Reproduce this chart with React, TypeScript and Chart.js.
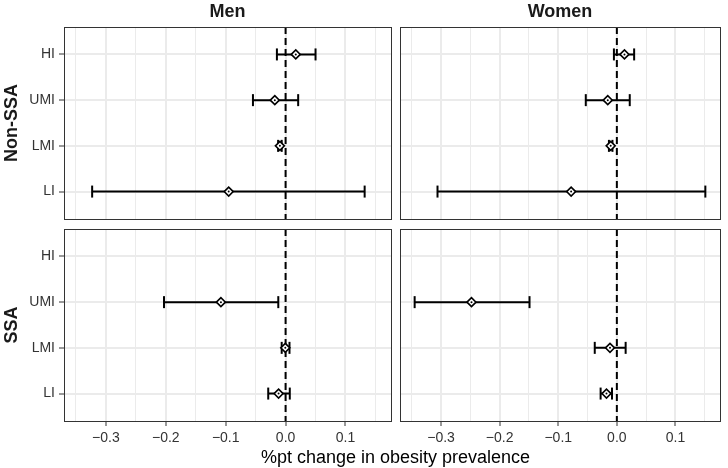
import React, { useEffect, useRef } from 'react';
import { Chart, registerables } from 'chart.js';

Chart.register(...registerables);

// ---------- data ----------
const categories = ['HI', 'UMI', 'LMI', 'LI'];
const columnLabels = ['Men', 'Women'];
const rowLabels = ['Non-SSA', 'SSA'];
const majorTicks = [-0.3, -0.2, -0.1, 0.0, 0.1];
const majorTickLabels = ['\u22120.3', '\u22120.2', '\u22120.1', '0.0', '0.1'];
const minorTicks = [-0.35, -0.25, -0.15, -0.05, 0.05, 0.15];
const xTitle = '%pt change in obesity prevalence';
const referenceValue = 0;

// Men, Non-SSA
const menNonSsaEst = [0.017, -0.018, -0.0095, -0.095];
const menNonSsaLo = [-0.0145, -0.0545, -0.0125, -0.323];
const menNonSsaHi = [0.05, 0.021, -0.0065, 0.132];
// Women, Non-SSA
const womenNonSsaEst = [0.013, -0.0155, -0.0105, -0.078];
const womenNonSsaLo = [-0.005, -0.053, -0.0135, -0.306];
const womenNonSsaHi = [0.0295, 0.022, -0.0075, 0.151];
// Men, SSA
const menSsaEst = [null, -0.108, -0.0005, -0.0117];
const menSsaLo = [null, -0.203, -0.0065, -0.029];
const menSsaHi = [null, -0.0122, 0.0065, 0.007];
// Women, SSA
const womenSsaEst = [null, -0.248, -0.0117, -0.0177];
const womenSsaLo = [null, -0.345, -0.0377, -0.0277];
const womenSsaHi = [null, -0.149, 0.015, -0.0083];

const X_MIN = -0.37;
const X_MAX = 0.176;

// ---------- layout ----------
const W = 728;
const H = 468;
const PANEL_LEFT = [64, 400];
const PANEL_RIGHT = [391, 727];
const PANEL_TOP = [27, 229];
const PANEL_BOTTOM = [219, 421];
const Y_AXIS_W = 64;
const X_AXIS_H = 30;
const FAMILY = "'Liberation Sans', Arial, Helvetica, sans-serif";
const TICK_TEXT = '#333333';

type Panel = {
  row: number;
  col: number;
  est: (number | null)[];
  lo: (number | null)[];
  hi: (number | null)[];
};

const panels: Panel[] = [
  { row: 0, col: 0, est: menNonSsaEst, lo: menNonSsaLo, hi: menNonSsaHi },
  { row: 0, col: 1, est: womenNonSsaEst, lo: womenNonSsaLo, hi: womenNonSsaHi },
  { row: 1, col: 0, est: menSsaEst, lo: menSsaLo, hi: menSsaHi },
  { row: 1, col: 1, est: womenSsaEst, lo: womenSsaLo, hi: womenSsaHi },
];

const isMajor = (v: any) =>
  typeof v === 'number' && majorTicks.some((m) => Math.abs(m - v) < 1e-9);

const decorPlugin = {
  id: 'panelDecor',
  beforeDatasetsDraw(chart: any) {
    const { ctx, chartArea, scales } = chart;
    const x0 = scales.x.getPixelForValue(referenceValue);
    ctx.save();
    ctx.strokeStyle = '#000000';
    ctx.lineWidth = 2;
    ctx.setLineDash([7, 4]);
    ctx.beginPath();
    ctx.moveTo(x0, chartArea.top);
    ctx.lineTo(x0, chartArea.bottom);
    ctx.stroke();
    ctx.restore();
  },
  afterDraw(chart: any) {
    const { ctx, chartArea } = chart;
    ctx.save();
    ctx.strokeStyle = '#333333';
    ctx.lineWidth = 1;
    ctx.strokeRect(
      chartArea.left + 0.5,
      chartArea.top + 0.5,
      chartArea.right - chartArea.left,
      chartArea.bottom - chartArea.top
    );
    ctx.restore();
  },
};

function PanelChart({ row, col, est, lo, hi }: Panel) {
  const ref = useRef<HTMLCanvasElement | null>(null);

  useEffect(() => {
    if (!ref.current) return;
    const idx = categories.map((_, i) => i).filter((i) => est[i] != null);

    const lineData: any[] = [];
    const capData: any[] = [];
    idx.forEach((i) => {
      lineData.push({ x: lo[i], y: i + 1 }, { x: hi[i], y: i + 1 }, { x: null, y: null });
      capData.push({ x: lo[i], y: i + 1 }, { x: hi[i], y: i + 1 });
    });
    const estData = idx.map((i) => ({ x: est[i], y: i + 1 }));

    const chart = new Chart(ref.current, {
      type: 'scatter',
      data: {
        datasets: [
          {
            type: 'line',
            data: lineData,
            borderColor: '#000000',
            borderWidth: 2,
            pointRadius: 0,
            spanGaps: false,
            fill: false,
            tension: 0,
            order: 3,
          } as any,
          {
            data: capData,
            pointStyle: 'line',
            rotation: 90,
            radius: 6,
            borderColor: '#000000',
            borderWidth: 2,
            order: 2,
          } as any,
          {
            data: estData,
            pointStyle: 'rectRot',
            radius: 4.5,
            backgroundColor: '#ffffff',
            borderColor: '#000000',
            borderWidth: 1.6,
            order: 1,
          } as any,
          {
            data: estData,
            pointStyle: 'circle',
            radius: 1,
            backgroundColor: '#000000',
            borderWidth: 0,
            order: 0,
          } as any,
        ],
      },
      options: {
        animation: false,
        responsive: false,
        events: [],
        layout: {
          padding: {
            left: col === 0 ? 0 : PANEL_LEFT[1],
            right: W - PANEL_RIGHT[col],
            top: row === 0 ? 0 : PANEL_TOP[1],
            bottom: H - PANEL_BOTTOM[row] - (row === 1 ? X_AXIS_H : 0),
          },
        },
        plugins: {
          legend: { display: false },
          tooltip: { enabled: false },
          title: {
            display: row === 0,
            text: columnLabels[col],
            fullSize: false,
            color: '#1A1A1A',
            font: { family: FAMILY, size: 18, weight: 'bold' },
            padding: { top: 1.2, bottom: 4.2 },
          },
        },
        scales: {
          x: {
            type: 'linear',
            position: 'bottom',
            min: X_MIN,
            max: X_MAX,
            afterBuildTicks: (s: any) => {
              s.ticks = [...majorTicks, ...minorTicks]
                .sort((a, b) => a - b)
                .map((v) => ({ value: v }));
            },
            afterFit: (s: any) => {
              s.height = row === 1 ? X_AXIS_H : 0;
            },
            border: { display: false },
            grid: {
              color: '#EBEBEB',
              lineWidth: (c: any) => (isMajor(c.tick && c.tick.value) ? 2 : 1),
              drawTicks: row === 1,
              tickLength: 5,
              tickWidth: 1,
              tickColor: (c: any) =>
                isMajor(c.tick && c.tick.value) ? '#333333' : 'rgba(0,0,0,0)',
            },
            ticks: {
              display: row === 1,
              autoSkip: false,
              maxRotation: 0,
              padding: 3.5,
              color: TICK_TEXT,
              font: { family: FAMILY, size: 14 },
              callback: (v: any) => {
                const k = majorTicks.findIndex((m) => Math.abs(m - v) < 1e-9);
                return k >= 0 ? majorTickLabels[k] : '';
              },
            },
          },
          y: {
            type: 'linear',
            position: 'left',
            min: 0.4,
            max: categories.length + 0.6,
            reverse: true,
            offset: false,
            afterBuildTicks: (s: any) => {
              s.ticks = categories.map((_, i) => ({ value: i + 1 }));
            },
            afterFit: (s: any) => {
              s.width = col === 0 ? Y_AXIS_W : 0;
            },
            border: { display: false },
            grid: {
              offset: false,
              color: '#EBEBEB',
              lineWidth: 2,
              drawTicks: col === 0,
              tickLength: 5,
              tickWidth: 1,
              tickColor: '#333333',
            },
            ticks: {
              display: col === 0,
              padding: 4,
              color: TICK_TEXT,
              font: { family: FAMILY, size: 14 },
              callback: (v: any) => categories[Math.round(v) - 1] ?? '',
            },
            title: {
              display: col === 0,
              text: rowLabels[row],
              color: '#1A1A1A',
              font: { family: FAMILY, size: 18, weight: 'bold' },
              padding: { top: 1, bottom: 0 },
            },
          },
        },
      } as any,
      plugins: [decorPlugin],
    });
    return () => chart.destroy();
  }, [row, col, est, lo, hi]);

  return (
    <canvas
      ref={ref}
      width={W}
      height={H}
      style={{ position: 'absolute', left: 0, top: 0, width: W, height: H }}
    />
  );
}

export default function App() {
  return (
    <div
      style={{
        position: 'fixed',
        left: 0,
        top: 0,
        width: W,
        height: H,
        background: '#ffffff',
        overflow: 'hidden',
      }}
    >
      {panels.map((p) => (
        <PanelChart key={`${p.row}-${p.col}`} {...p} />
      ))}
      <div
        style={{
          position: 'absolute',
          left: PANEL_LEFT[0],
          width: PANEL_RIGHT[1] - PANEL_LEFT[0],
          top: 447,
          textAlign: 'center',
          fontFamily: FAMILY,
          fontSize: 18,
          lineHeight: '20px',
          color: '#000000',
          whiteSpace: 'nowrap',
        }}
      >
        {xTitle}
      </div>
    </div>
  );
}
